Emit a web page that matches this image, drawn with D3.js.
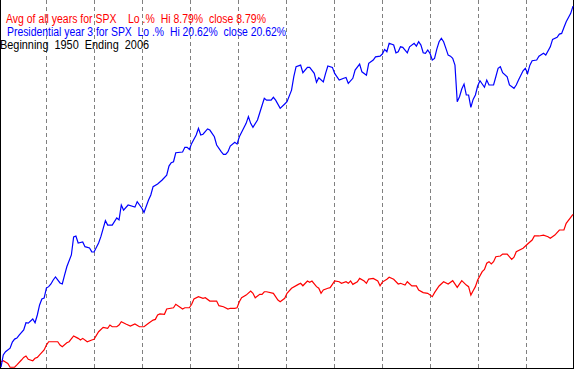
<!DOCTYPE html>
<html><head><meta charset="utf-8">
<script src="https://cdn.jsdelivr.net/npm/d3@7"></script>
<style>html,body{margin:0;padding:0;background:#fff;}svg{display:block;}</style>
</head><body>
<script>
// Trading-day index (0..252) and cumulative % gain
const presDays = [0,1,2,4,5,6,7,8,10,11,12,14,15,16,17,18,19,20,21,22,23,24,26,27,28,29,31,32,33,34,36,37,39,40,41,43,44,46,47,49,51,52,53,54,56,59,60,62,63,65,66,67,69,71,73,74,75,76,77,80,81,82,83,84,86,87,88,89,91,92,94,95,97,98,99,100,101,103,104,105,106,108,109,110,111,113,114,116,117,119,120,121,123,125,126,128,129,130,132,133,135,136,138,139,140,142,143,144,146,147,149,151,152,153,155,156,158,159,161,162,164,165,167,168,169,170,171,173,174,175,176,177,179,180,182,183,184,185,186,187,188,189,190,191,192,193,194,195,196,197,198,199,200,201,202,203,204,205,206,207,208,209,210,211,213,214,215,217,218,219,220,221,223,224,226,227,228,230,231,232,233,234,236,237,239,240,242,243,245,246,247,248,249,251,252];
const presValues = [0.11,0.80,0.98,1.18,1.53,1.70,1.76,1.93,2.22,2.63,2.61,2.84,2.63,3.07,3.64,3.98,4.03,4.60,4.68,4.83,5.06,5.23,4.89,4.83,5.34,5.81,6.48,7.50,7.56,7.16,7.22,6.95,6.88,6.66,6.65,7.16,7.52,8.43,8.18,8.18,8.58,8.47,9.32,9.03,9.32,9.20,9.51,9.15,8.90,9.60,9.89,10.36,10.51,10.74,11.02,11.53,11.72,11.78,12.29,12.33,12.60,12.60,12.48,12.82,13.30,13.68,13.30,13.34,13.64,13.58,13.20,12.73,12.35,12.20,12.20,12.35,12.67,12.88,12.78,13.20,13.45,13.96,14.34,13.96,13.73,14.15,14.56,15.38,15.28,15.28,15.44,15.28,14.81,15.06,15.19,15.85,16.61,17.18,17.27,16.84,17.14,17.14,16.80,16.29,16.55,16.32,16.80,17.22,17.14,16.80,16.42,16.52,16.57,16.23,16.52,16.99,17.33,16.89,16.70,17.37,17.56,17.74,17.78,17.90,18.16,18.03,18.51,18.41,17.97,18.03,18.31,18.28,17.97,18.31,18.51,18.35,18.60,18.41,17.97,17.94,18.13,17.94,17.56,17.65,18.18,18.60,18.79,18.60,18.22,17.84,17.78,17.65,17.27,15.19,15.47,15.91,16.19,15.57,15.57,14.87,15.32,15.57,16.08,16.38,16.01,16.42,16.14,16.14,16.61,17.09,17.18,16.84,16.61,16.14,15.95,16.14,16.42,16.95,17.09,16.80,17.27,17.52,17.56,17.78,17.94,17.84,18.31,18.73,18.85,19.03,19.07,19.41,19.73,20.21,20.62];

const avgDays = [0,1,3,4,6,7,9,10,11,12,14,15,16,17,19,20,21,25,26,27,29,30,32,34,35,36,38,40,41,43,45,47,48,49,51,52,53,55,57,59,61,63,65,67,68,69,70,72,73,76,77,80,81,83,84,85,87,89,90,92,95,96,98,100,101,103,104,105,106,108,110,111,112,114,115,116,117,120,122,123,125,126,128,131,132,133,135,136,137,139,140,141,142,144,145,146,147,149,150,152,153,154,155,157,158,160,161,162,164,166,167,168,170,171,173,175,176,178,179,181,183,184,186,188,190,191,193,195,197,199,201,203,205,206,207,208,209,210,212,213,214,215,216,217,218,220,221,223,225,226,227,230,232,234,235,237,239,241,242,244,246,248,249,251,252];
const avgValues = [0.41,0.47,0.32,0.10,0.10,0.23,0.51,0.66,0.74,0.55,0.47,0.61,0.66,0.80,1.08,1.36,1.55,1.55,1.36,1.27,1.49,1.55,1.88,1.74,1.65,1.74,1.55,1.65,1.69,2.12,2.37,2.31,2.50,2.40,2.40,2.50,2.69,2.56,2.44,2.56,2.40,2.40,2.60,2.78,2.82,3.07,3.13,3.11,3.41,3.48,3.68,3.41,3.48,3.48,3.68,3.98,4.11,4.02,4.05,3.86,3.86,3.60,3.54,3.41,3.45,3.45,3.48,3.82,4.05,4.20,4.43,4.30,4.05,4.24,4.24,4.39,4.39,4.30,3.92,3.82,4.02,4.30,4.59,4.81,4.87,4.73,5.00,4.93,5.00,4.68,4.59,4.30,4.49,4.59,4.62,4.81,5.00,4.96,4.87,4.96,4.87,5.00,4.81,4.96,5.15,5.00,4.87,5.11,5.15,5.00,4.73,4.94,5.10,5.21,5.10,4.83,4.87,4.77,4.96,4.72,4.72,4.49,4.34,4.30,4.11,4.34,4.72,4.96,4.83,5.02,4.64,5.02,4.77,4.68,4.20,4.45,4.68,5.06,5.53,5.66,6.01,6.10,5.97,6.10,6.38,6.42,6.53,6.53,6.23,6.35,6.66,6.86,7.10,7.33,7.56,7.56,7.61,7.52,7.43,7.61,7.90,7.90,8.28,8.62,8.79];

const gridDays = [19.8,40.95,62.1,83.25,104.4,125.55,146.7,167.85,189,210.15,231.3];

const titleLines = [
  {text:"Avg of all years for SPX    Lo .%  Hi 8.79%  close 8.79%", color:"#ff0000"},
  {text:"Presidential year 3 for SPX  Lo .%  Hi 20.62%  close 20.62%", color:"#0000ff"},
  {text:"Beginning  1950  Ending  2006", color:"#000000"}
];

const W = 574, H = 369;
const svg = d3.select("body").append("svg").attr("width", W).attr("height", H);
svg.append("rect").attr("width", W).attr("height", H).attr("fill", "#fff");

const x = d3.scaleLinear().domain([0, 252]).range([1, 573]);
const y = d3.scaleLinear().domain([0, 20.97]).range([369, 0]);

// dashed vertical grid
svg.append("g").selectAll("line").data(gridDays).join("line")
  .attr("x1", d => Math.round(x(d)) + 0.5).attr("x2", d => Math.round(x(d)) + 0.5)
  .attr("y1", 0).attr("y2", 368)
  .attr("stroke", "#808080").attr("stroke-width", 1)
  .attr("stroke-dasharray", "4,3");

// borders
svg.append("line").attr("x1",0.5).attr("x2",0.5).attr("y1",0).attr("y2",369).attr("stroke","#000");
svg.append("line").attr("x1",0).attr("x2",574).attr("y1",368.5).attr("y2",368.5).attr("stroke","#000");
svg.append("line").attr("x1",573.5).attr("x2",573.5).attr("y1",0).attr("y2",369).attr("stroke","#000");

const line = d3.line().x(d => x(d[0])).y(d => y(d[1]));
svg.append("path").datum(avgDays.map((d,i)=>[d, avgValues[i]]))
  .attr("d", line).attr("fill","none").attr("stroke","#ff0000").attr("stroke-width",1.2);
svg.append("path").datum(presDays.map((d,i)=>[d, presValues[i]]))
  .attr("d", line).attr("fill","none").attr("stroke","#0000ff").attr("stroke-width",1.2);

// title text
const tx = [6, 7, 0], ty = [22.5, 36, 49], tw = [260, 279, 149];
svg.append("g").selectAll("text").data(titleLines).join("text")
  .attr("x", (d,i) => tx[i]).attr("y", (d,i) => ty[i])
  .attr("textLength", (d,i) => tw[i]).attr("lengthAdjust", "spacingAndGlyphs")
  .style("white-space", "pre")
  .attr("font-family", "Liberation Sans, Arial, sans-serif").attr("font-size", 12)
  .attr("fill", d => d.color)
  .text(d => d.text);
</script>
</body></html>
